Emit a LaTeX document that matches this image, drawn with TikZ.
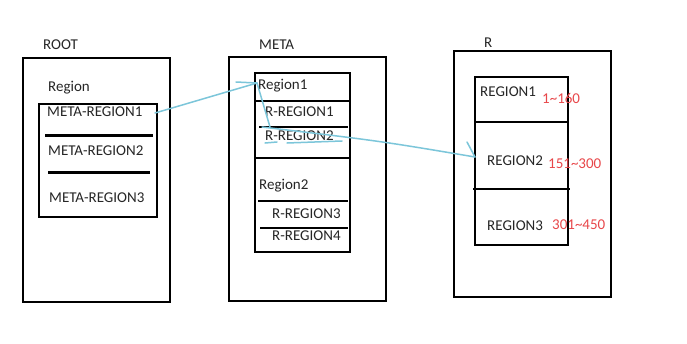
\documentclass[tikz,border=0pt]{standalone}
\usepackage{fontspec}
\setmainfont{Carlito}
\definecolor{sk}{HTML}{7CC6DA}
\definecolor{rd}{HTML}{E8474A}
\begin{document}
\begin{tikzpicture}[x=1pt,y=-1pt,
  outerbox/.style 2 args={draw=black, line width=2pt, inner sep=0pt, outer sep=0pt, anchor=north west, minimum width=#1, minimum height=#2},
  lbl/.style={anchor=west, inner sep=0pt, font=\fontsize{15}{18}\selectfont, text=black!85},
  red/.style={lbl, text=rd},
  sep/.style={draw=black, line width=2pt},
  thick sep/.style={draw=black, line width=3pt},
  blue/.style={draw=sk, line width=1.5pt, line cap=round}]
\useasboundingbox[fill=white] (0,0) rectangle (687,343);
% ROOT
\node[outerbox={147pt}{244pt}] (root) at (23,58) {};
\node[outerbox={118pt}{113pt}] (rootin) at (39,104) {};
\node[lbl] (rootlbl) at (43,45) {ROOT};
\node[lbl] (regionlbl) at (48,88) {Region};
\node[lbl] (mr1) at (47,112) {META-REGION1};
\node[lbl] (mr2) at (48,151) {META-REGION2};
\node[lbl] (mr3) at (49,198) {META-REGION3};
\draw[thick sep] (45,135) -- (153,135);
\draw[thick sep] (48,172) -- (150,172);
% META
\node[outerbox={157pt}{244pt}] (meta) at (229,57) {};
\node[outerbox={95pt}{179pt}] (metain) at (255,73) {};
\node[lbl] (metalbl) at (259,45) {META};
\node[lbl] (rg1) at (258,86) {Region1};
\node[lbl] (rr1) at (265,112) {R-REGION1};
\node[lbl] (rr2) at (265,136) {R-REGION2};
\node[lbl] (rg2) at (259,186) {Region2};
\node[lbl] (rr3) at (272,214) {R-REGION3};
\node[lbl] (rr4) at (272,236) {R-REGION4};
\draw[sep] (255,101) -- (350,101);
\draw[sep] (259,127) -- (348,127);
\draw[sep] (255,158) -- (350,158);
\draw[sep] (258,201) -- (348,201);
\draw[sep] (260,228) -- (348,228);
% R
\node[outerbox={157pt}{246pt}] (r) at (454,51) {};
\node[outerbox={93pt}{168pt}] (rin) at (475,77) {};
\node[lbl] (rlbl) at (484,43) {R};
\node[lbl] (reg1) at (480,92) {REGION1};
\node[red] (n1) at (542,98) {1\textasciitilde160};
\node[lbl] (reg2) at (487,161) {REGION2};
\node[red] (n2) at (548,164) {151\textasciitilde300};
\node[lbl] (reg3) at (487,226) {REGION3};
\node[red] (n3) at (552,225) {301\textasciitilde450};
\draw[sep] (475,122) -- (568,122);
\draw[sep] (473,189) -- (570,189);
% connectors
\coordinate (a1s) at (155,113);
\coordinate (a1e) at (257,83);
\coordinate (a1h) at (236,82);
\coordinate (a3e) at (270,127);
\coordinate (a2s) at (262,127);
\coordinate (a2e) at (475,157);
\coordinate (a2h) at (467,142);
\draw[blue] (a1s) -- (a1e);
\draw[blue] (a1h) -- (a1e);
\draw[blue] (a1e) -- (a3e);
\draw[blue] (a2s) .. controls (380,141) .. (a2e);
\draw[blue] (a2h) -- (a2e);
\coordinate (u1a) at (265,143);
\coordinate (u1b) at (277,142);
\coordinate (u2a) at (287,143);
\coordinate (u2b) at (342,141);
\draw[blue] (u1a) -- (u1b);
\draw[blue] (u2a) -- (u2b);
\end{tikzpicture}
\end{document}
